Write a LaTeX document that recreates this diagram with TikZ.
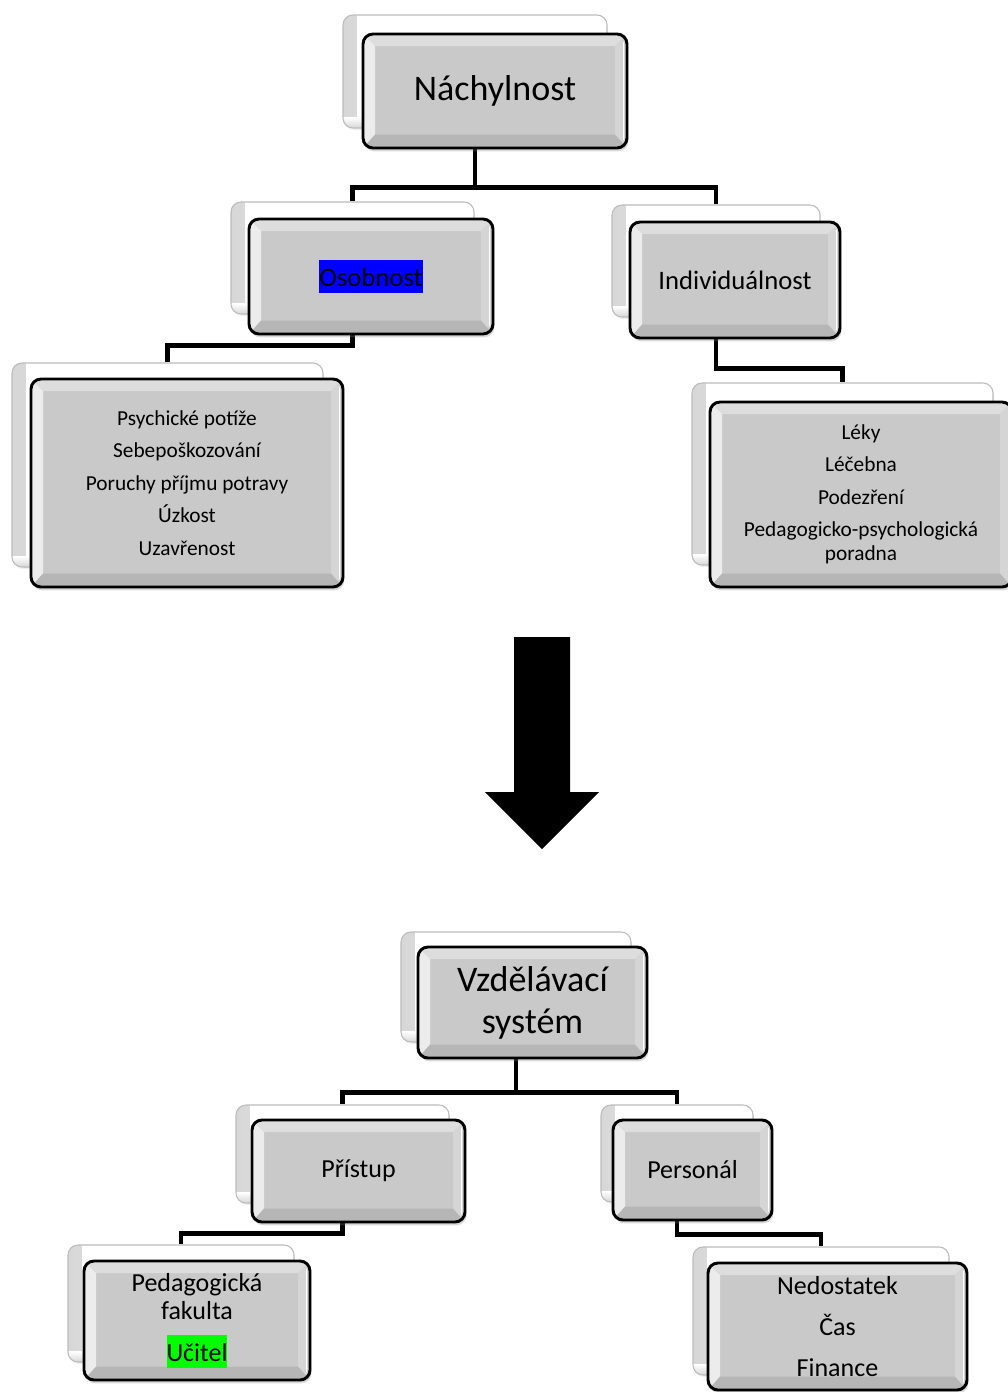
\documentclass[tikz,border=0pt]{standalone}
\usepackage{fontspec}
\setmainfont{Carlito}
\usetikzlibrary{shadows,backgrounds}
\definecolor{boxgray}{RGB}{201,201,201}
\definecolor{bandT}{RGB}{221,221,221}
\definecolor{bandL}{RGB}{236,236,236}
\definecolor{bandR}{RGB}{213,213,213}
\definecolor{bandB}{RGB}{182,182,182}
\definecolor{backedge}{RGB}{188,188,188}
\definecolor{hlblue}{RGB}{0,0,255}
\definecolor{hlgreen}{RGB}{0,255,0}
\newcommand\myhl[2]{{\setlength\fboxsep{0pt}\colorbox{#1}{\rule[-0.26em]{0pt}{1.26em}#2}}}
\newcommand\fbig{\fontsize{27}{31.5}\selectfont}
\newcommand\fmid{\fontsize{20}{24}\selectfont}
\newcommand\fbot{\fontsize{19.5}{21}\selectfont}
\newcommand\flist{\fontsize{16}{18}\selectfont}
\tikzset{
  sz/.style 2 args={minimum width=#1*0.75pt, minimum height=#2*0.75pt},
  backbox/.style={draw=backedge, line width=0.8pt, rounded corners=7.5pt, fill=white, inner sep=0pt,
    drop shadow={opacity=0.12, shadow xshift=0.8pt, shadow yshift=-1.5pt},
    path picture={
      \shade[sharp corners, left color=bandB!55, right color=white]
        (path picture bounding box.south west) rectangle ([xshift=10pt]path picture bounding box.north west);
      \shade[sharp corners, bottom color=bandB!55, top color=white]
        (path picture bounding box.south west) rectangle ([yshift=8pt]path picture bounding box.south east);
    }},
  frontbox/.style={draw=black, line width=2.2pt, rounded corners=7.5pt, fill=boxgray, inner sep=0pt, align=center,
    drop shadow={opacity=0.3, shadow xshift=1pt, shadow yshift=-2.5pt},
    path picture={
      \coordinate (ppa) at (path picture bounding box.north west);
      \coordinate (ppb) at (path picture bounding box.north east);
      \coordinate (ppc) at (path picture bounding box.south east);
      \coordinate (ppd) at (path picture bounding box.south west);
      \coordinate (ppA) at ([shift={(9pt,-9pt)}]ppa);
      \coordinate (ppB) at ([shift={(-9pt,-9pt)}]ppb);
      \coordinate (ppC) at ([shift={(-9pt,10pt)}]ppc);
      \coordinate (ppD) at ([shift={(9pt,10pt)}]ppd);
      \fill[sharp corners, bandT] (ppa)--(ppb)--(ppB)--(ppA)--cycle;
      \fill[sharp corners, bandL] (ppa)--(ppA)--(ppD)--(ppd)--cycle;
      \fill[sharp corners, bandR] (ppb)--(ppc)--(ppC)--(ppB)--cycle;
      \fill[sharp corners, bandB] (ppd)--(ppD)--(ppC)--(ppc)--cycle;
      \draw[sharp corners, white, line width=1.2pt] ([shift={(-2.5pt,-6pt)}]ppb) -- ([shift={(-2.5pt,6pt)}]ppc);
    }},
  conn/.style={draw=black, line width=3.6pt}
}
\begin{document}
\begin{tikzpicture}[x=0.75pt, y=-0.75pt]
\useasboundingbox (0,0) rectangle (1007,1392);
% top tree
\node[backbox, sz={264}{113}] (n1b) at (475,71.5) {};
\node[frontbox, sz={264}{114}, font=\fbig] (n1) at (495,91) {Náchylnost};
\node[backbox, sz={243}{112}] (n2b) at (352.5,258) {};
\node[frontbox, sz={244}{115}, font=\fmid] (n2) at (371,276.5) {\myhl{hlblue}{Osobnost}};
\node[backbox, sz={311}{204}] (n3b) at (167.5,465) {};
\node[frontbox, sz={312}{208}, font=\flist] (n3) at (187,483) {Psychické potíže\\[6.4pt]Sebepoškozování\\[6.4pt]Poruchy příjmu potravy\\[6.4pt]Úzkost\\[6.4pt]Uzavřenost};
\node[backbox, sz={208}{112}] (n4b) at (716,261) {};
\node[frontbox, sz={210}{116}, font=\fmid] (n4) at (735,280) {Individuálnost};
\node[backbox, sz={301}{182}] (n5b) at (842.5,474) {};
\node[frontbox, sz={302}{185}, font=\flist] (n5) at (861,494.5) {Léky\\[6.4pt]Léčebna\\[6.4pt]Podezření\\[6.4pt]Pedagogicko-psychologická\\poradna};
% big arrow
\fill[black] (514,637) -- (570,637) -- (570,792) -- (599,792) -- (542,849) -- (485,792) -- (514,792) -- cycle;
% bottom tree
\node[backbox, sz={230}{110}] (m1b) at (516,987) {};
\node[frontbox, sz={229}{111}, font=\fbig] (m1) at (532.5,1002.5) {Vzdělávací\\systém};
\node[backbox, sz={213}{98}] (m2b) at (342.5,1154) {};
\node[frontbox, sz={213}{102}, font=\fbot] (m2) at (358.5,1171) {Přístup};
\node[backbox, sz={152}{97}] (m3b) at (677,1153.5) {};
\node[frontbox, sz={159}{100}, font=\fbot] (m3) at (692.5,1170) {Personál};
\node[backbox, sz={226}{117}] (m4b) at (181,1303.5) {};
\node[frontbox, sz={226}{119}, font=\fbot] (m4) at (197,1320.5) {Pedagogická\\fakulta\\[10.5pt]\myhl{hlgreen}{Učitel}};
\node[backbox, sz={256}{128}] (m5b) at (821,1311) {};
\node[frontbox, sz={259}{127}, font=\fbot] (m5) at (837.5,1326.5) {Nedostatek\\[9.75pt]Čas\\[9.75pt]Finance};
% connectors
\begin{scope}[on background layer]
\draw[conn] (n1b.south) -- ++(0,59) -| (n2b.north);
\draw[conn] (n1b.south) -- ++(0,59) -| (n4b.north);
\draw[conn] (n2b.south) -- ++(0,31) -| (n3b.north);
\draw[conn] (n4b.south) -- ++(0,51) -| (n5b.north);
\draw[conn] (m1b.south) -- ++(0,50) -| (m2b.north);
\draw[conn] (m1b.south) -- ++(0,50) -| (m3b.north);
\draw[conn] (m2b.south) -- ++(0,30) -| (m4b.north);
\draw[conn] (m3b.south) -- ++(0,32) -| (m5b.north);
\end{scope}
\end{tikzpicture}
\end{document}
